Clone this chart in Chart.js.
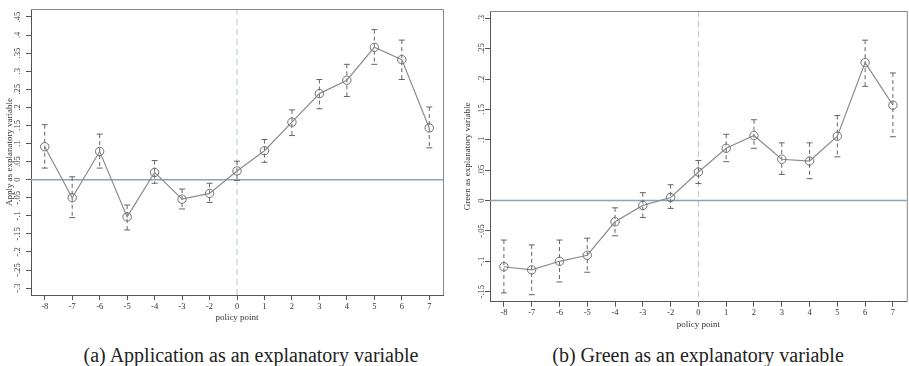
<!DOCTYPE html>
<html>
<head>
<meta charset="utf-8">
<script src="https://cdn.jsdelivr.net/npm/chart.js@4.4.1/dist/chart.umd.min.js"></script>
<style>
  html, body { margin: 0; padding: 0; background: #fff; overflow: hidden; }
  body { width: 909px; height: 366px; position: relative; font-family: "Liberation Serif", serif; }
  canvas { position: absolute; top: 0; }
  #panelA { left: 0; }
  #panelB { left: 450px; }
  .caption { position: absolute; top: 345px; font-size: 20px; line-height: 20px; color: #222; white-space: nowrap; transform: translateX(-50%); }
</style>
</head>
<body>
<canvas id="panelA" width="450" height="330"></canvas>
<canvas id="panelB" width="462" height="336"></canvas>
<div class="caption" style="left:251px">(a) Application as an explanatory variable</div>
<div class="caption" style="left:698px">(b) Green as an explanatory variable</div>
<script>
// policy points (no -1 in the original)
const xLabels = ['-8', '-7', '-6', '-5', '-4', '-3', '-2', '0', '1', '2', '3', '4', '5', '6', '7'];

// (a) Apply
const applyCoef  = [0.091, -0.050, 0.078, -0.103, 0.020, -0.054, -0.038, 0.024, 0.080, 0.159, 0.238, 0.275, 0.366, 0.332, 0.143];
const applyUpper = [0.152, 0.008, 0.126, -0.070, 0.053, -0.026, -0.010, 0.051, 0.111, 0.193, 0.277, 0.319, 0.415, 0.386, 0.201];
const applyLower = [0.032, -0.105, 0.032, -0.139, -0.010, -0.081, -0.063, -0.002, 0.048, 0.122, 0.196, 0.230, 0.319, 0.277, 0.088];
const applyTicks = [-0.3, -0.25, -0.2, -0.15, -0.1, -0.05, 0, 0.05, 0.1, 0.15, 0.2, 0.25, 0.3, 0.35, 0.4, 0.45];

// (b) Green
const greenCoef  = [-0.109, -0.114, -0.100, -0.090, -0.035, -0.008, 0.005, 0.047, 0.086, 0.107, 0.068, 0.065, 0.106, 0.227, 0.157];
const greenUpper = [-0.065, -0.073, -0.065, -0.062, -0.012, 0.013, 0.026, 0.066, 0.109, 0.133, 0.095, 0.095, 0.140, 0.264, 0.210];
const greenLower = [-0.152, -0.155, -0.134, -0.118, -0.058, -0.028, -0.013, 0.028, 0.064, 0.086, 0.043, 0.036, 0.072, 0.188, 0.105];
const greenTicks = [-0.15, -0.1, -0.05, 0, 0.05, 0.1, 0.15, 0.2, 0.25, 0.3];

const FONT = 'Liberation Serif';

// Stata style labels: .05, -.1, 0
const stataLabel = (v) => {
    if (Math.abs(v) < 1e-9) return '0';
    let s = (Math.round(v * 100) / 100).toString();
    return s.replace(/^(-?)0\./, '$1.');
};

function makePanel(id, cfg) {
    const overlay = {
        id: 'stataBits',
        beforeDatasetsDraw(chart) {
            const { ctx, chartArea: a, scales: { x, y } } = chart;
            ctx.save();
            // zero line
            const y0 = y.getPixelForValue(0);
            ctx.strokeStyle = '#8aa3b5';
            ctx.lineWidth = 1.5;
            ctx.beginPath(); ctx.moveTo(a.left, y0); ctx.lineTo(a.right, y0); ctx.stroke();
            // policy line at 0
            const xp = x.getPixelForValue(xLabels.indexOf('0'));
            ctx.strokeStyle = '#b2c8cc';
            ctx.lineWidth = 1;
            ctx.setLineDash([6, 4]);
            ctx.beginPath(); ctx.moveTo(xp, a.top); ctx.lineTo(xp, a.bottom); ctx.stroke();
            // confidence intervals
            ctx.strokeStyle = '#666';
            cfg.lower.forEach((lo, i) => {
                const px = x.getPixelForValue(i);
                const yl = y.getPixelForValue(lo);
                const yu = y.getPixelForValue(cfg.upper[i]);
                ctx.setLineDash([4, 3]);
                ctx.beginPath(); ctx.moveTo(px, yu); ctx.lineTo(px, yl); ctx.stroke();
                ctx.setLineDash([]);
                ctx.beginPath();
                ctx.moveTo(px - 3, yu); ctx.lineTo(px + 3, yu);
                ctx.moveTo(px - 3, yl); ctx.lineTo(px + 3, yl);
                ctx.stroke();
            });
            ctx.restore();
        },
        afterDraw(chart) {
            const { ctx, chartArea: a, scales: { y } } = chart;
            ctx.save();
            // top and right frame
            ctx.strokeStyle = '#888';
            ctx.lineWidth = 1;
            ctx.beginPath();
            ctx.moveTo(a.left, a.top + 0.5); ctx.lineTo(a.right + 0.5, a.top + 0.5); ctx.lineTo(a.right + 0.5, a.bottom);
            ctx.stroke();
            // rotated y tick labels
            ctx.fillStyle = '#333';
            ctx.font = '8.5px "' + FONT + '"';
            ctx.textAlign = 'center';
            ctx.textBaseline = 'middle';
            cfg.ticks.forEach(v => {
                ctx.save();
                ctx.translate(cfg.labelX, y.getPixelForValue(v));
                ctx.rotate(-Math.PI / 2);
                ctx.fillText(stataLabel(v), 0, 0);
                ctx.restore();
            });
            ctx.restore();
        }
    };

    return new Chart(document.getElementById(id), {
        type: 'line',
        data: {
            labels: xLabels,
            datasets: [{
                data: cfg.coef,
                borderColor: '#8c8c8c',
                borderWidth: 1.2,
                pointRadius: 4.2,
                pointBorderWidth: 1,
                pointBorderColor: '#707070',
                pointBackgroundColor: 'rgba(0,0,0,0)',
                tension: 0
            }]
        },
        options: {
            responsive: false,
            animation: false,
            events: [],
            layout: { padding: cfg.padding },
            plugins: { legend: { display: false }, tooltip: { enabled: false } },
            scales: {
                x: {
                    type: 'category',
                    offset: true,
                    grid: { drawOnChartArea: false, drawTicks: true, tickLength: 5, color: '#555' },
                    border: { display: true, color: '#555', width: 1 },
                    ticks: { color: '#333', font: { family: FONT, size: 8.5 }, padding: cfg.xPad, maxRotation: 0, autoSkip: false },
                    title: { display: true, text: 'policy point', color: '#333', font: { family: FONT, size: 9 }, padding: 0 },
                    afterFit: (s) => { s.height = cfg.xHeight; }
                },
                y: {
                    min: cfg.min,
                    max: cfg.max,
                    grid: { drawOnChartArea: false, drawTicks: true, tickLength: 5, color: '#555' },
                    border: { display: true, color: '#555', width: 1 },
                    ticks: { color: 'rgba(0,0,0,0)', font: { family: FONT, size: 8.5 } },
                    title: { display: true, text: cfg.title, color: '#333', font: { family: FONT, size: 9 }, padding: 0 },
                    afterBuildTicks: (s) => { s.ticks = cfg.ticks.map(v => ({ value: v })); },
                    afterFit: (s) => { s.width = cfg.yWidth; }
                }
            }
        },
        plugins: [overlay]
    });
}

makePanel('panelA', {
    coef: applyCoef, upper: applyUpper, lower: applyLower, ticks: applyTicks,
    min: -0.319, max: 0.472,
    title: 'Apply as explanatory variable',
    padding: { left: 4, top: 9, right: 7, bottom: 6.6 },
    yWidth: 27, xHeight: 28.4, xPad: 2, labelX: 18
});

makePanel('panelB', {
    coef: greenCoef, upper: greenUpper, lower: greenLower, ticks: greenTicks,
    min: -0.1665, max: 0.312,
    title: 'Green as explanatory variable',
    padding: { left: 12.6, top: 11, right: 2, bottom: 5.6 },
    yWidth: 27.4, xHeight: 28.7, xPad: 1.2, labelX: 32
});
</script>
</body>
</html>
